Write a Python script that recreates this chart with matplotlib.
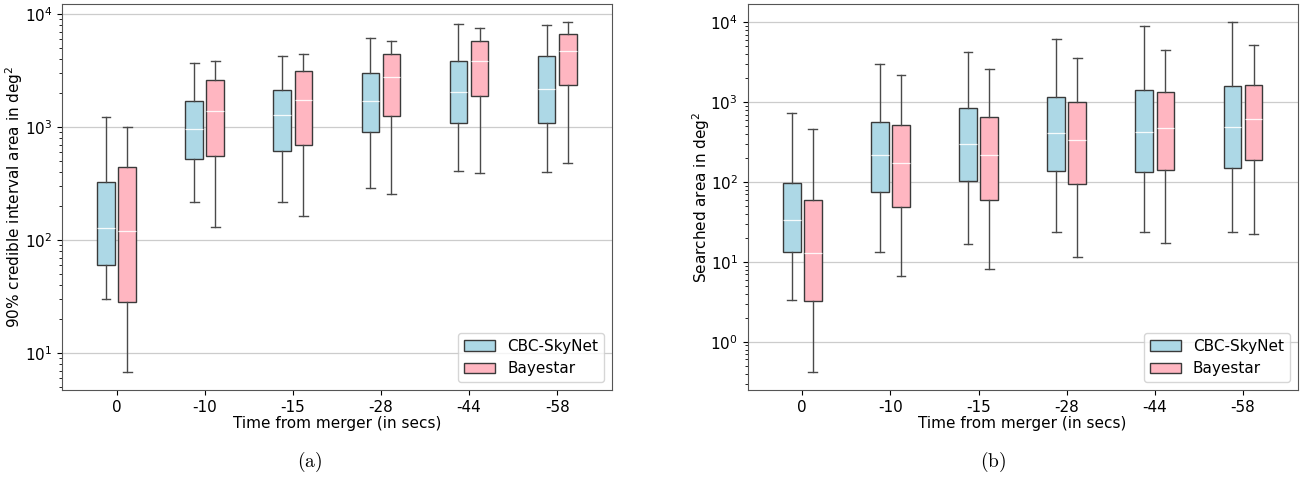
import matplotlib
matplotlib.use("Agg")
import matplotlib.pyplot as plt
from matplotlib.patches import Patch

# etiquetas del eje x (segundos antes del merger)
times = ["0", "-10", "-15", "-28", "-44", "-58"]

# (a) area del intervalo creible 90% -- CBC-SkyNet
a_cbc_low = [30.3, 218, 218, 292, 408, 400]
a_cbc_q1 = [60, 525, 621, 904, 1084, 1099]
a_cbc_med = [128, 966, 1276, 1718, 2066, 2198]
a_cbc_q3 = [328, 1718, 2138, 3028, 3880, 4300]
a_cbc_high = [1225, 3680, 4300, 6140, 8210, 8040]

# (a) Bayestar
a_bay_low = [6.8, 130, 164, 258, 392, 480]
a_bay_q1 = [28.2, 553, 701, 1259, 1906, 2384]
a_bay_med = [121, 1393, 1746, 2767, 3880, 4710]
a_bay_q3 = [443, 2636, 3133, 4455, 5770, 6730]
a_bay_high = [1000, 3880, 4430, 5836, 7520, 8610]

# (b) searched area -- CBC-SkyNet
b_cbc_low = [3.38, 13.5, 16.9, 23.7, 23.7, 23.7]
b_cbc_q1 = [13.5, 74, 104, 137, 134.5, 151]
b_cbc_med = [33.8, 215, 298, 410, 422, 495]
b_cbc_q3 = [97, 572, 841, 1155, 1426, 1585]
b_cbc_high = [741, 2985, 4217, 6240, 9070, 10170]

# (b) Bayestar
b_bay_low = [0.417, 6.68, 8.25, 11.55, 17.1, 22.4]
b_bay_q1 = [3.22, 48.7, 59.6, 95.3, 139.6, 188]
b_bay_med = [12.8, 173, 215, 338, 477, 618]
b_bay_q3 = [58.9, 525, 661, 1018, 1334, 1660]
b_bay_high = [460, 2195, 2585, 3610, 4545, 5158]


def make_stats(low, q1, med, q3, high):
    return [dict(whislo=l, q1=a, med=m, q3=b, whishi=h, fliers=[])
            for l, a, m, b, h in zip(low, q1, med, q3, high)]


def dibujar(ax, stats_cbc, stats_bay, ylabel, ylim, labelx):
    pos = list(range(len(times)))
    for stats, off, color in [(stats_cbc, -0.12, "lightblue"),
                              (stats_bay, 0.12, "lightpink")]:
        ax.bxp(stats, positions=[p + off for p in pos], widths=0.2,
               patch_artist=True, showfliers=False,
               boxprops=dict(facecolor=color, edgecolor="#3a3a3a", linewidth=1.0),
               medianprops=dict(color="white", linewidth=0.9, alpha=0.9),
               whiskerprops=dict(color="#4a4a4a", linewidth=1.0),
               capprops=dict(color="#4a4a4a", linewidth=1.0))
    ax.set_yscale("log")
    ax.set_ylim(*ylim)
    ax.set_xlim(-0.62, 5.62)
    ax.set_xticks(pos)
    ax.set_xticklabels(times)
    ax.yaxis.grid(True, which="major", color="#cccccc", linewidth=0.9)
    ax.set_axisbelow(True)
    ax.set_xlabel("Time from merger (in secs)", fontsize=11, labelpad=1)
    ax.set_ylabel(ylabel, fontsize=11)
    ax.yaxis.set_label_coords(labelx, 0.5)
    ax.tick_params(labelsize=11)
    for s in ax.spines.values():
        s.set_color("#555555")
    handles = [Patch(facecolor="lightblue", edgecolor="#3a3a3a", label="CBC-SkyNet"),
               Patch(facecolor="lightpink", edgecolor="#3a3a3a", label="Bayestar")]
    ax.legend(handles=handles, loc="lower right", fontsize=11)


fig = plt.figure(figsize=(13.08, 4.78), dpi=100)
ax1 = fig.add_axes([0.0474, 0.1841, 0.4203, 0.8075])
ax2 = fig.add_axes([0.5716, 0.1841, 0.4205, 0.8075])

dibujar(ax1, make_stats(a_cbc_low, a_cbc_q1, a_cbc_med, a_cbc_q3, a_cbc_high),
        make_stats(a_bay_low, a_bay_q1, a_bay_med, a_bay_q3, a_bay_high),
        "90% credible interval area in deg$^2$", (4.73, 12330), -0.067)
dibujar(ax2, make_stats(b_cbc_low, b_cbc_q1, b_cbc_med, b_cbc_q3, b_cbc_high),
        make_stats(b_bay_low, b_bay_q1, b_bay_med, b_bay_q3, b_bay_high),
        "Searched area in deg$^2$", (0.249, 16950), -0.065)

# subtitulos (a) y (b) con fuente tipo LaTeX
fig.text(0.237, 0.033, r"$\mathrm{(a)}$", fontsize=14, ha="center", va="center",
         math_fontfamily="cm")
fig.text(0.759, 0.033, r"$\mathrm{(b)}$", fontsize=14, ha="center", va="center",
         math_fontfamily="cm")

fig.savefig("out.png", dpi=100)
